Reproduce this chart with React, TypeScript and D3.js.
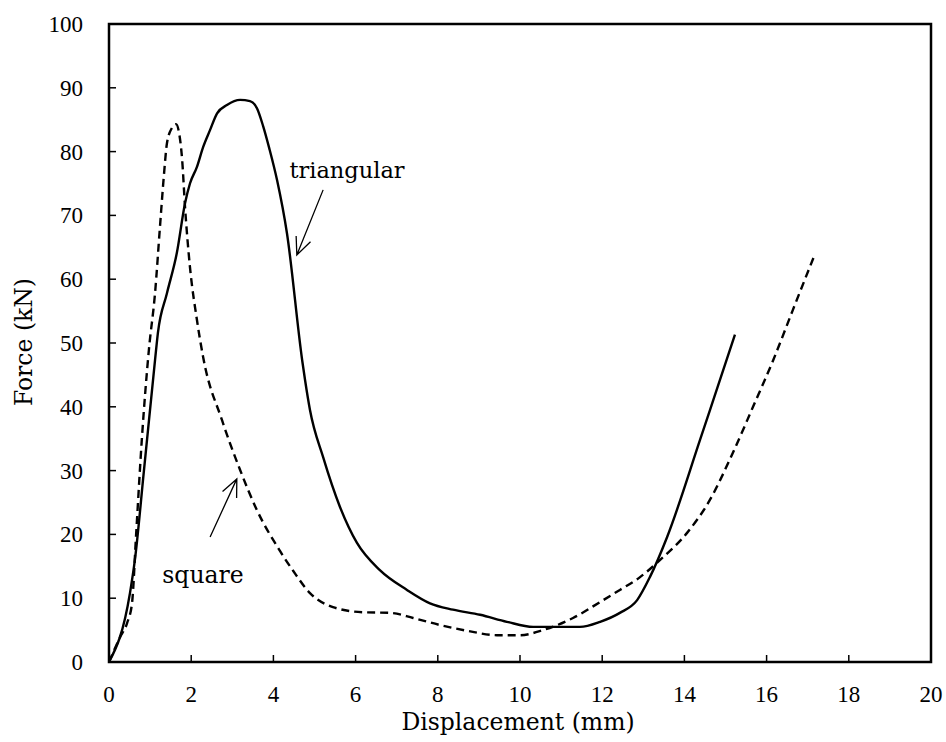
import * as d3 from "d3";

// triangular specimen (solid)
const triX = [0, 0.51, 0.63, 0.85, 1.12, 1.19, 1.41, 1.65, 1.85, 1.97, 2.14, 2.29, 2.46, 2.63, 2.87, 3.19, 3.43, 3.6, 3.75, 3.9, 4.09, 4.33, 4.7, 4.77, 4.89, 5.21, 5.62, 6.03, 6.59, 7.25, 7.81, 8.37, 9.03, 9.68, 10.32, 10.9, 11.46, 11.95, 12.43, 12.85, 13.16, 13.58, 14.38, 14.7, 15.23];
const triY = [0, 10.8, 16, 30, 47.3, 51.6, 57.8, 64.1, 71.9, 75, 77.6, 80.7, 83.4, 86, 87.3, 88.1, 87.9, 86.8, 84, 80.5, 75.5, 67.2, 47.3, 44.2, 39.5, 32.1, 24.3, 18.7, 14.4, 11.3, 9.2, 8.2, 7.4, 6.3, 5.5, 5.5, 5.5, 6.3, 7.7, 9.7, 13.3, 19.6, 34.8, 41.0, 51.3];

// square specimen (dashed)
const sqX = [0, 0.27, 0.44, 0.56, 0.66, 0.8, 0.97, 1.12, 1.24, 1.34, 1.41, 1.53, 1.63, 1.7, 1.78, 1.85, 1.97, 2.14, 2.29, 2.75, 3.19, 3.6, 4.16, 4.48, 4.89, 5.45, 6.18, 6.84, 7.4, 8.05, 8.71, 9.44, 10.0, 10.56, 11.29, 11.95, 12.43, 12.92, 13.41, 14.06, 14.62, 15.18, 15.67, 16.16, 16.64, 17.18];
const sqY = [0, 3.9, 6.1, 9.2, 20, 35, 48.9, 57.8, 68.2, 76.6, 81.3, 83.7, 84.3, 83.1, 78.7, 71.3, 61.9, 53.6, 47.8, 37.9, 30.1, 23.8, 17.4, 14.3, 10.8, 8.6, 7.8, 7.7, 6.9, 5.8, 4.9, 4.2, 4.2, 5.0, 6.9, 9.4, 11.3, 13.3, 16, 20.2, 25.4, 32.8, 40, 47.3, 55.2, 64];

const xTicks = [0, 2, 4, 6, 8, 10, 12, 14, 16, 18, 20];
const yTicks = [0, 10, 20, 30, 40, 50, 60, 70, 80, 90, 100];

const numFont = "'Liberation Serif', serif";
const wordFont = "'DejaVu Serif', serif";

export default function App() {
  const W = 946, H = 742;
  const m = { l: 109, r: 931, t: 24, b: 662 };
  const x = d3.scaleLinear().domain([0, 20]).range([m.l, m.r]);
  const y = d3.scaleLinear().domain([0, 100]).range([m.b, m.t]);

  const line = d3
    .line<[number, number]>()
    .x((d) => x(d[0]))
    .y((d) => y(d[1]))
    .curve(d3.curveMonotoneX);

  const tri = triX.map((v, i) => [v, triY[i]] as [number, number]);
  const sq = sqX.map((v, i) => [v, sqY[i]] as [number, number]);

  // open arrow from (x1,y1) to the tip (x2,y2), data coords
  const arrow = (x1: number, y1: number, x2: number, y2: number) => {
    const a = [x(x1), y(y1)], b = [x(x2), y(y2)];
    const ang = Math.atan2(b[1] - a[1], b[0] - a[0]);
    const len = 19, spread = 0.42;
    const h1 = [b[0] - len * Math.cos(ang - spread), b[1] - len * Math.sin(ang - spread)];
    const h2 = [b[0] - len * Math.cos(ang + spread), b[1] - len * Math.sin(ang + spread)];
    return `M${a[0]},${a[1]}L${b[0]},${b[1]}M${h1[0]},${h1[1]}L${b[0]},${b[1]}L${h2[0]},${h2[1]}`;
  };

  return (
    <svg width={W} height={H} style={{ position: "absolute", left: 0, top: 0 }}>
      <rect width={W} height={H} fill="white" />
      <path d={line(tri) ?? ""} fill="none" stroke="black" strokeWidth={2.4} />
      <path d={line(sq) ?? ""} fill="none" stroke="black" strokeWidth={2.4} strokeDasharray="8,5" />

      <rect x={m.l} y={m.t} width={m.r - m.l} height={m.b - m.t} fill="none" stroke="black" strokeWidth={2.5} />

      {yTicks.map((t) => (
        <g key={"y" + t}>
          <line x1={m.l} x2={m.l + 7} y1={y(t)} y2={y(t)} stroke="black" strokeWidth={1.5} />
          <text x={83} y={y(t)} dy="0.35em" textAnchor="end" fontFamily={numFont} fontSize={23}>
            {t}
          </text>
        </g>
      ))}
      {xTicks.map((t) => (
        <g key={"x" + t}>
          <line x1={x(t)} x2={x(t)} y1={m.b} y2={m.b - 7} stroke="black" strokeWidth={1.5} />
          <text x={x(t)} y={702} textAnchor="middle" fontFamily={numFont} fontSize={23}>
            {t}
          </text>
        </g>
      ))}

      <text x={518} y={730} textAnchor="middle" fontFamily={wordFont} fontSize={23.5}>
        Displacement (mm)
      </text>
      <text transform={`translate(32,342) rotate(-90)`} textAnchor="middle" fontFamily={wordFont} fontSize={23.5}>
        Force (kN)
      </text>

      <text x={347} y={178} textAnchor="middle" fontFamily={wordFont} fontSize={22.5}>
        triangular
      </text>
      <path d={arrow(5.21, 74.0, 4.57, 63.8)} fill="none" stroke="black" strokeWidth={1.3} />
      <text x={203} y={583} textAnchor="middle" fontFamily={wordFont} fontSize={23.5}>
        square
      </text>
      <path d={arrow(2.46, 19.6, 3.11, 28.7)} fill="none" stroke="black" strokeWidth={1.3} />
    </svg>
  );
}
